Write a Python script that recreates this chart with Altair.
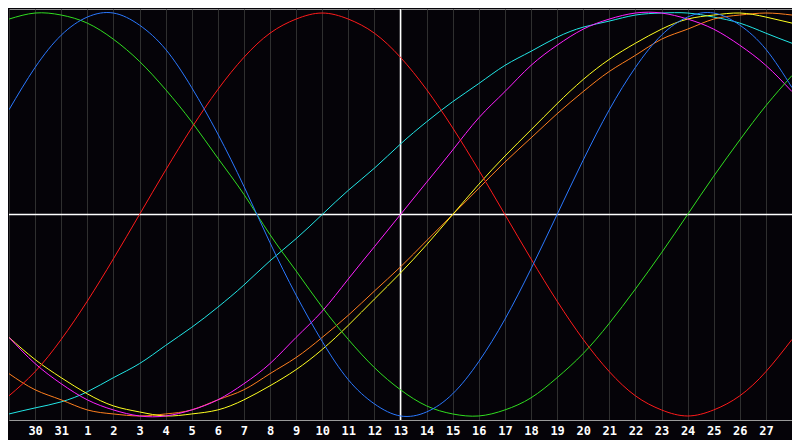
import json
import altair as alt
import pandas as pd

# Day labels along the x axis (index 0..28), gridlines at index -1..29
day_labels = ["30", "31"] + [str(d) for d in range(1, 28)]
day_index = list(range(-1, 30))
today_index = 14  # day 13

# Cycle values at each gridline (index -1 .. 29)
physical = [0.52, 0.73, 0.89, 0.98, 1.00, 0.94, 0.82, 0.63, 0.40, 0.14, -0.14, -0.40, -0.63, -0.82,
            -0.94, -1.00, -0.98, -0.89, -0.73, -0.52, -0.27, 0.00, 0.27, 0.52, 0.73, 0.89, 0.98,
            1.00, 0.94, 0.82, 0.63]
emotional = [-0.90, -0.78, -0.62, -0.43, -0.22, 0.00, 0.22, 0.43, 0.62, 0.78, 0.90, 0.97, 1.00,
             0.97, 0.90, 0.78, 0.62, 0.43, 0.22, 0.00, -0.22, -0.43, -0.62, -0.78, -0.90, -0.97,
             -1.00, -0.97, -0.90, -0.78, -0.62]
intellectual = [0.97, 1.00, 0.99, 0.95, 0.87, 0.76, 0.62, 0.46, 0.28, 0.10, -0.10, -0.28, -0.46,
                -0.62, -0.76, -0.87, -0.95, -0.99, -1.00, -0.97, -0.91, -0.81, -0.69, -0.54, -0.37,
                -0.19, 0.00, 0.19, 0.37, 0.54, 0.69]
intuitive = [-0.61, -0.74, -0.84, -0.92, -0.97, -1.00, -1.00, -0.97, -0.92, -0.84, -0.74, -0.61,
             -0.48, -0.32, -0.16, 0.00, 0.16, 0.32, 0.48, 0.61, 0.74, 0.84, 0.92, 0.97, 1.00, 1.00,
             0.97, 0.92, 0.84, 0.74, 0.61]
aesthetic = [-0.61, -0.72, -0.81, -0.89, -0.95, -0.98, -1.00, -0.99, -0.97, -0.92, -0.85, -0.77,
             -0.67, -0.55, -0.42, -0.29, -0.15, 0.00, 0.15, 0.29, 0.42, 0.55, 0.67, 0.77, 0.85,
             0.92, 0.97, 0.99, 1.00, 0.98, 0.95]
awareness = [-0.79, -0.87, -0.92, -0.97, -0.99, -1.00, -0.99, -0.97, -0.92, -0.87, -0.79, -0.71,
             -0.61, -0.50, -0.38, -0.26, -0.13, 0.00, 0.13, 0.26, 0.38, 0.50, 0.61, 0.71, 0.79,
             0.87, 0.92, 0.97, 0.99, 1.00, 0.99]
spiritual = [-0.99, -0.96, -0.93, -0.88, -0.81, -0.74, -0.65, -0.56, -0.46, -0.35, -0.23, -0.12,
             0.00, 0.12, 0.23, 0.35, 0.46, 0.56, 0.65, 0.74, 0.81, 0.88, 0.93, 0.96, 0.99, 1.00,
             1.00, 0.98, 0.95, 0.90, 0.85]

cycle_names = ["Spiritual", "Awareness", "Aesthetic", "Intuitive", "Intellectual", "Emotional", "Physical"]
cycle_values = [spiritual, awareness, aesthetic, intuitive, intellectual, emotional, physical]
cycle_colors = ["#22e6e6", "#ff7f1e", "#ffff20", "#ff20ff", "#30dd20", "#ff1a1a", "#2a78ff"]

rows = []
for order, (name, vals) in enumerate(zip(cycle_names, cycle_values)):
    for d, v in zip(day_index, vals):
        rows.append({"day": d, "value": v, "cycle": name, "order": order})
df = pd.DataFrame(rows)

label_expr = ("datum.value >= 0 && datum.value <= 28 ? " + json.dumps(day_labels)
              + "[datum.value] : ''")

x_enc = alt.X(
    "day:Q",
    scale=alt.Scale(domain=[-1, 29], nice=False, zero=False),
    axis=alt.Axis(
        values=day_index, labelExpr=label_expr, grid=True, gridColor="#2f2f2f",
        gridWidth=1, domainColor="#9a9a9a", domainWidth=1, ticks=False,
        labelColor="#ffffff", labelFont="DejaVu Sans Mono", labelFontWeight="bold",
        labelFontSize=12, labelPadding=5, labelFlush=False, labelOverlap=False, title=None,
    ),
)
y_scale = alt.Scale(domain=[-1.02, 1.02], nice=False, zero=False)

today_rule = alt.Chart(pd.DataFrame({"day": [today_index]})).mark_rule(
    color="#ffffff", strokeWidth=1.5
).encode(x=x_enc)

zero_rule = alt.Chart(pd.DataFrame({"value": [0]})).mark_rule(
    color="#ffffff", strokeWidth=1.5
).encode(y=alt.Y("value:Q", scale=y_scale, axis=None))

lines = alt.Chart(df).mark_line(strokeWidth=1, interpolate="natural", clip=True).encode(
    x=x_enc,
    y=alt.Y("value:Q", scale=y_scale, axis=None),
    color=alt.Color("cycle:N", scale=alt.Scale(domain=cycle_names, range=cycle_colors), legend=None),
    order=alt.Order("order:Q"),
)

chart = alt.layer(today_rule, zero_rule, lines).properties(
    width=783, height=411,
    padding={"left": 1, "top": 1, "right": 0, "bottom": 20},
    autosize=alt.AutoSizeParams(type="none"),
    background="#050308",
).configure_view(stroke="#8a8a8a", strokeWidth=1)

chart.save("out.html", embed_options={"renderer": "svg", "actions": False})
